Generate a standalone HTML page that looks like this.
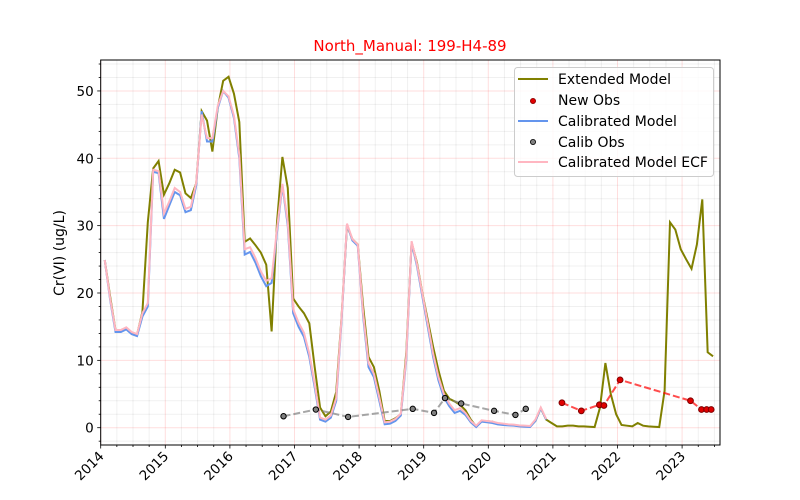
<!DOCTYPE html>
<html><head><meta charset="utf-8"><style>
html,body{margin:0;padding:0;background:#fff;}
svg{display:block;font-family:"DejaVu Sans","Liberation Sans",sans-serif;}
</style></head><body>
<svg id="chart" width="800" height="500" viewBox="0 0 800 500">
<rect width="800" height="500" fill="#fff"/>
<g id="grid"></g>
<g id="series"></g>
<g id="axes"></g>
<text x="410" y="51" text-anchor="middle" font-size="15" fill="red">North_Manual: 199-H4-89</text>
<text transform="translate(64,253) rotate(-90)" text-anchor="middle" font-size="14" fill="#000">Cr(VI) (ug/L)</text>
<g>
<rect x="514.5" y="67.5" width="199" height="109" rx="3" fill="#fff" fill-opacity="0.8" stroke="#ccc"/>
<g><line x1="518" y1="79" x2="548" y2="79" stroke="#808000" stroke-width="2"/><text x="558" y="84" font-size="14">Extended Model</text></g>
<g><circle cx="533" cy="101" r="2.6" fill="#e00000" stroke="#800" stroke-width="0.8"/><text x="558" y="105" font-size="14">New Obs</text></g>
<g><line x1="518" y1="121" x2="548" y2="121" stroke="#6495ed" stroke-width="2"/><text x="558" y="126" font-size="14">Calibrated Model</text></g>
<g><circle cx="533" cy="142" r="2.6" fill="#808080" stroke="#000" stroke-width="0.8"/><text x="558" y="147" font-size="14">Calib Obs</text></g>
<g><line x1="518" y1="162" x2="548" y2="162" stroke="#ffb6c1" stroke-width="2"/><text x="558" y="167" font-size="14">Calibrated Model ECF</text></g>
</g>
</svg>
<script>
const startYear = 2014.0625;
const extended = [24.9,19.5,14.5,14.5,14.8,14.1,13.8,17.2,30.5,38.5,39.6,34.6,36.3,38.3,37.9,34.8,34.1,36.3,47.0,45.6,41.0,47.5,51.5,52.1,49.6,45.4,27.6,28.1,27.1,26.0,24.2,14.3,30.5,40.2,35.6,19.2,18.0,17.0,15.5,9.0,3.0,1.7,2.4,5.3,16.5,30.0,28.0,27.2,18.0,10.5,9.0,5.5,1.0,1.0,1.4,2.0,11.0,27.5,24.5,20.0,16.0,12.0,8.5,5.5,4.3,3.9,3.4,2.6,1.2,0.2,1.0,0.95,0.9,0.6,0.5,0.4,0.35,0.3,0.25,0.2,1.0,2.9,1.2,0.7,0.2,0.2,0.3,0.3,0.2,0.2,0.15,0.1,3.0,9.6,5.0,2.0,0.4,0.3,0.2,0.7,0.3,0.2,0.15,0.1,5.5,30.5,29.4,26.5,25.0,23.6,27.2,33.9,11.2,10.6];
const calibrated = [24.9,19.0,14.2,14.2,14.6,13.9,13.6,16.5,18.0,38.0,37.8,31.0,33.0,35.0,34.5,32.0,32.3,36.0,47.0,42.5,42.5,47.5,50.0,49.0,46.0,40.0,25.7,26.1,24.5,22.5,21.0,21.5,29.0,36.0,30.0,17.0,15.0,13.5,10.5,6.0,1.2,0.9,1.5,4.0,16.0,30.2,27.8,27.0,16.5,9.0,7.5,4.0,0.5,0.6,1.0,1.8,10.0,27.5,24.0,19.5,15.0,10.5,7.0,4.5,3.2,2.2,2.5,1.9,0.8,0.1,0.9,0.8,0.7,0.5,0.4,0.35,0.3,0.2,0.15,0.1,1.0,2.9,1.2];
const calibratedEcf = [24.9,19.2,14.5,14.5,14.9,14.2,13.9,17.0,18.5,38.3,38.1,31.8,33.6,35.6,35.0,32.5,32.8,36.4,46.5,43.0,43.0,47.8,50.0,49.2,46.3,40.5,26.5,26.8,25.2,23.2,21.8,22.2,29.5,36.2,30.5,17.6,15.6,14.1,11.0,6.5,1.5,1.2,1.8,4.4,16.4,30.3,28.0,27.2,17.0,9.6,8.0,4.5,0.8,0.9,1.3,2.1,10.4,27.7,24.3,19.9,15.5,11.0,7.5,5.0,3.6,2.6,2.9,2.2,1.0,0.3,1.1,1.0,0.9,0.7,0.6,0.5,0.45,0.35,0.3,0.25,1.2,3.0,1.3];
const calibObsDates = [2016.83,2017.33,2017.83,2018.83,2019.16,2019.33,2019.58,2020.09,2020.42,2020.58];
const calibObsValues = [1.7,2.7,1.6,2.8,2.2,4.4,3.6,2.5,1.9,2.8];
const newObsDates = [2021.14,2021.44,2021.72,2021.79,2022.04,2023.13,2023.30,2023.38,2023.45];
const newObsValues = [3.7,2.5,3.4,3.3,7.1,4.0,2.7,2.7,2.7];
const xTickYears = [2014,2015,2016,2017,2018,2019,2020,2021,2022,2023];
const yTickValues = [0,10,20,30,40,50];

const L=100.7,R=720,T=60,B=445;
const NS='http://www.w3.org/2000/svg';
function X(t){return 100.7+64.6*(t-2014);}
function Y(v){return 427.7-6.735*v;}
function el(tag,attrs,parent){const e=document.createElementNS(NS,tag);for(const k in attrs)e.setAttribute(k,attrs[k]);parent.appendChild(e);return e;}
const grid=document.getElementById('grid'),series=document.getElementById('series'),axes=document.getElementById('axes');

// minor grid
for(let t=2014;t<=2023.6;t+=0.25){const x=X(t);if(x>R)break;if(Math.abs(t-Math.round(t))<0.01)continue;
 const g=el('line',{x1:x,x2:x,y1:T,y2:B,stroke:'#000','stroke-opacity':0.06,'stroke-width':1},grid);
 
 
 const tk=el('line',{x1:x,x2:x,y1:B,y2:B+2,stroke:'#000','stroke-width':0.8},axes);
 
 }
for(let v=-2;v<=54;v+=2){if(v%10===0)continue;const y=Y(v);if(y<T||y>B)continue;
 const g=el('line',{x1:L,x2:R,y1:y,y2:y,stroke:'#000','stroke-opacity':0.06,'stroke-width':1},grid);
 
 
 const tk=el('line',{x1:L-2,x2:L,y1:y,y2:y,stroke:'#000','stroke-width':0.8},axes);
 
 }
// major grid + ticks
xTickYears.forEach(t=>{const x=X(t);
 const g=el('line',{x1:x,x2:x,y1:T,y2:B,stroke:'red','stroke-opacity':0.13,'stroke-width':1},grid);
 
 
 const tk=el('line',{x1:x,x2:x,y1:B,y2:B+3.5,stroke:'#000','stroke-width':0.8},axes);
 
 
 const lb=el('text',{x:0,y:0,'font-size':13.5,'text-anchor':'end',transform:`translate(${x+4},${B+12}) rotate(-45)`},axes);
 lb.textContent=t;
 
 });
yTickValues.forEach(v=>{const y=Y(v);
 const g=el('line',{x1:L,x2:R,y1:y,y2:y,stroke:'red','stroke-opacity':0.13,'stroke-width':1},grid);
 
 
 const tk=el('line',{x1:L-3.5,x2:L,y1:y,y2:y,stroke:'#000','stroke-width':0.8},axes);
 
 
 const lb=el('text',{x:L-7,y:y+5,'font-size':13.5,'text-anchor':'end'},axes);
 lb.textContent=v;
 
 });
const frame=el('rect',{x:L,y:T,width:R-L,height:B-T,fill:'none',stroke:'#000','stroke-width':1},axes);



function monthlyPath(arr){return arr.map((v,i)=>(i?'L':'M')+X(startYear+i/12).toFixed(2)+','+Y(v).toFixed(2)).join(' ');}
function ptsPath(ds,vs){return ds.map((d,i)=>(i?'L':'M')+X(d).toFixed(2)+','+Y(vs[i]).toFixed(2)).join(' ');}

const ext=el('path',{d:monthlyPath(extended),fill:'none',stroke:'#808000','stroke-width':2},series);


const cal=el('path',{d:monthlyPath(calibrated),fill:'none',stroke:'#6495ed','stroke-width':2},series);


const ecf=el('path',{d:monthlyPath(calibratedEcf),fill:'none',stroke:'#ffb6c1','stroke-width':2},series);



const cl=el('path',{d:ptsPath(calibObsDates,calibObsValues),fill:'none',stroke:'#808080','stroke-opacity':0.7,'stroke-width':2,'stroke-dasharray':'7,3'},series);


calibObsDates.forEach((d,i)=>{const c=el('circle',{cx:X(d),cy:Y(calibObsValues[i]),r:2.7,fill:'#808080',stroke:'#000','stroke-width':1},series);
 
 });
const nl=el('path',{d:ptsPath(newObsDates,newObsValues),fill:'none',stroke:'red','stroke-opacity':0.7,'stroke-width':2,'stroke-dasharray':'7,3'},series);


newObsDates.forEach((d,i)=>{const c=el('circle',{cx:X(d),cy:Y(newObsValues[i]),r:2.9,fill:'#e00000',stroke:'#800000','stroke-width':1},series);
 
 });
</script>
</body></html>
